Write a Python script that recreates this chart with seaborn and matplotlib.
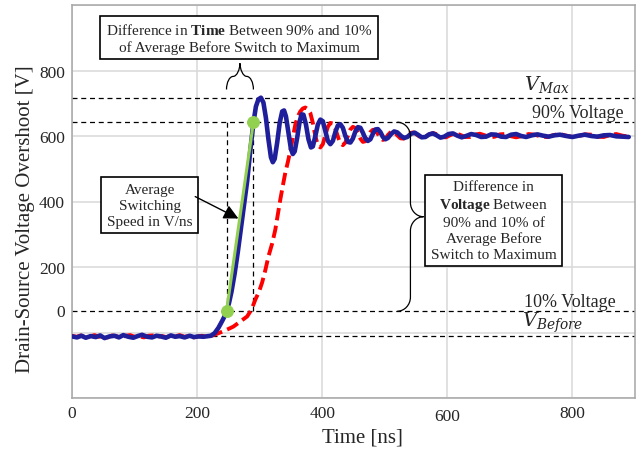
import matplotlib
matplotlib.use("Agg")
import matplotlib.pyplot as plt
import numpy as np
import pandas as pd
import seaborn as sns
from matplotlib.path import Path
from matplotlib.patches import PathPatch
from matplotlib.transforms import ScaledTranslation

# ---------------- data ----------------
blue_t = [0, 8, 15, 22, 30, 38, 45, 52, 60, 68, 75, 82, 90, 98, 105, 112, 120, 128, 135, 142,
          150, 158, 165, 172, 180, 188, 195, 202, 210, 218,
          222, 228, 234, 240, 244, 247, 251, 255, 260, 265, 270, 275, 280, 285, 290, 294, 298,
          302, 306, 310, 314, 318, 321, 324, 328, 332, 336, 339, 342, 346, 350, 353, 356, 360,
          364, 367, 370, 374, 378, 382, 385, 389, 393, 397, 401, 405, 409, 413, 417, 421, 425,
          429, 433, 437, 441, 445, 449, 453, 457, 461, 465, 469, 473, 477, 481, 485, 489, 493,
          497, 501, 505, 510, 515, 520, 526, 531, 536, 542, 548, 553, 559, 565, 571, 577, 583,
          589, 595, 602, 609, 616, 623, 630, 638, 646, 654, 662, 670, 678, 686, 694, 702, 710,
          718, 726, 735, 744, 753, 762, 771, 780, 790, 800, 810, 820, 830, 840, 850, 860, 870,
          880, 890]
blue_v = [-12, -15, -10, -16, -11, -14, -9, -17, -12, -10, -15, -8, -13, -16, -11, -7, -13, -15, -10, -12,
          -16, -9, -13, -11, -15, -10, -14, -12, -13, -11,
          -10, -2, 14, 35, 50, 65, 90, 125, 180, 245, 318, 390, 462, 555, 640, 690, 712,
          717, 702, 655, 590, 535, 520, 530, 580, 640, 675, 678, 660, 610, 560, 545, 553, 595,
          645, 666, 665, 635, 590, 565, 568, 600, 635, 650, 645, 615, 585, 575, 585, 612, 632,
          636, 625, 600, 582, 580, 592, 614, 627, 625, 610, 592, 585, 590, 607, 620, 621, 612,
          597, 590, 594, 606, 614, 611, 600, 594, 597, 607, 610, 604, 596, 597, 605, 608, 602,
          595, 598, 606, 608, 601, 596, 600, 606, 603, 597, 598, 605, 604, 598, 597, 604, 606,
          600, 597, 602, 605, 601, 598, 602, 604, 600, 597, 601, 604, 600, 598, 602, 603, 599,
          598, 597]

red_t = [0, 7, 14, 21, 28, 36, 43, 50, 57, 64, 72, 79, 86, 93, 100, 108, 115, 122, 129, 136,
         144, 151, 158, 165, 172, 180, 187, 194, 201, 208, 216,
         226, 237, 248, 258, 268, 280, 287, 293, 299, 304, 309, 314, 320, 325, 329, 333, 337,
         341, 345, 349, 353, 357, 361, 365, 369, 373, 377, 381, 385, 389, 393, 397, 401, 405,
         409, 413, 417, 421, 425, 429, 433, 437, 441, 445, 449, 453, 457, 461, 465, 469, 473,
         477, 481, 485, 489, 493, 497, 501, 505, 510, 515, 520, 525, 530, 535, 540, 546, 552,
         558, 564, 570, 577, 584, 591, 598, 605, 612, 620, 628, 636, 644, 652, 660, 668, 676,
         684, 692, 700, 710, 720, 730, 740, 750, 760, 770, 780, 790, 800, 810, 820, 830, 840,
         850, 860, 870, 880, 890]
red_v = [-10, -13, -9, -14, -12, -8, -13, -11, -15, -9, -12, -14, -10, -8, -13, -12, -15, -10, -9, -13,
         -11, -14, -10, -12, -8, -13, -11, -15, -12, -10, -14,
         -8, 0, 9, 18, 32, 49, 70, 100, 125, 153, 190, 232, 272, 314, 360, 406, 448,
         488, 520, 555, 595, 635, 660, 675, 684, 687, 682, 670, 640, 600, 572, 565, 575, 603,
         628, 640, 638, 622, 598, 578, 572, 580, 600, 620, 628, 624, 610, 592, 582, 584, 596,
         612, 619, 617, 606, 593, 588, 592, 603, 613, 612, 602, 593, 592, 600, 609, 611, 603,
         595, 596, 604, 609, 605, 597, 596, 603, 608, 604, 597, 597, 604, 607, 602, 596, 598,
         605, 606, 600, 596, 600, 606, 604, 598, 597, 603, 606, 601, 597, 600, 605, 604, 598,
         597, 603, 606, 601, 598]

switch_t = [247, 290]          # 10% and 90% crossing times
switch_v = [65, 642]           # 10% and 90% voltages
level_v = [717, 642, 65, -12]  # V_Max, 90 %, 10 %, V_Before
x_ticks = [0, 200, 400, 600, 800]
y_ticks = [-200, 0, 200, 400, 600, 800, 1000]
y_tick_labels = ["", "0", "200", "400", "600", "800", ""]

# ---------------- style ----------------
sns.set_theme(style="whitegrid")
plt.rcParams["font.family"] = ["Liberation Serif", "DejaVu Sans"]
plt.rcParams["mathtext.fontset"] = "custom"
plt.rcParams["mathtext.rm"] = "Liberation Serif"
plt.rcParams["mathtext.it"] = "DejaVu Serif:italic"
plt.rcParams["mathtext.bf"] = "Liberation Serif:bold"

fig = plt.figure(figsize=(6.43, 4.60), dpi=100)
ax = fig.add_axes([72 / 643, 61 / 460, 563 / 643, 393 / 460])

blue = pd.DataFrame({"t": blue_t, "v": blue_v})
red = pd.DataFrame({"t": red_t, "v": red_v})
sw = pd.DataFrame({"t": switch_t, "v": switch_v})

sns.lineplot(data=red, x="t", y="v", ax=ax, color="#ff0000", lw=2.8, zorder=3)
ax.lines[-1].set_dashes([3.2, 1.4])
ax.lines[-1].set_dash_capstyle("butt")
sns.lineplot(data=blue, x="t", y="v", ax=ax, color="#1f1f9c", lw=3.3, zorder=4)
sns.lineplot(data=sw, x="t", y="v", ax=ax, color="#92d050", lw=2.2, marker="o",
             markersize=8.5, markeredgecolor="#92d050", zorder=5)

# reference dashed lines
dash = dict(color="black", lw=0.9, linestyle=(0, (4, 3)), zorder=2)
for lv in level_v:
    ax.axhline(lv, **dash)
for st in switch_t:
    ax.plot([st, st], [switch_v[0], switch_v[1]], **dash)

ax.set_xlim(0, 900)
ax.set_ylim(-200, 1000)
ax.set_xticks(x_ticks)
ax.set_yticks(y_ticks)
ax.set_yticklabels(y_tick_labels)
ax.tick_params(axis="both", labelsize=12.5, pad=5, length=0)
ax.grid(True, color="#d9d9d9", lw=1.1)
for s in ax.spines.values():
    s.set_color("#a6a6a6")
    s.set_linewidth(1.1)

# misplaced "0" label (sits at the 10 % line in the reference)
for lab in ax.get_yticklabels():
    if lab.get_text() == "0":
        lab.set_transform(lab.get_transform() + ScaledTranslation(0, 0.22, fig.dpi_scale_trans))
for lab in ax.get_xticklabels():
    if lab.get_text() == "600":
        lab.set_transform(lab.get_transform() + ScaledTranslation(0, -0.03, fig.dpi_scale_trans))

ax.set_xlabel("Time [ns]", fontsize=15)
ax.set_ylabel("Drain-Source Voltage Overshoot [V]", fontsize=15)
ax.xaxis.set_label_coords(0.515, -0.075)
ax.yaxis.set_label_coords(-0.066, 0.458)

# level labels
ax.text(722, 728, r"$V_{Max}$", fontsize=14, ha="left", va="bottom", zorder=6)
ax.text(882, 647, "90% Voltage", fontsize=13, ha="right", va="bottom", zorder=6)
ax.text(869, 70, "10% Voltage", fontsize=13, ha="right", va="bottom", zorder=6)
ax.text(720, -4, r"$V_{Before}$", fontsize=14, ha="left", va="bottom", zorder=6)

# annotation boxes
box = dict(boxstyle="square,pad=0.35", fc="white", ec="black", lw=1.2)
ax.text(267, 900, "Difference in $\\mathbf{Time}$ Between 90% and 10%\nof Average Before Switch to Maximum",
        fontsize=11, ha="center", va="center", multialignment="center", linespacing=1.3,
        bbox=box, zorder=7)
ax.text(674, 342, "Difference in\n$\\mathbf{Voltage}$ Between\n90% and 10% of\nAverage Before\nSwitch to Maximum",
        fontsize=11, ha="center", va="center", multialignment="center", linespacing=1.25,
        bbox=box, zorder=7)
ax.text(124, 389, "Average\nSwitching\nSpeed in V/ns",
        fontsize=11, ha="center", va="center", multialignment="center", linespacing=1.3,
        bbox=box, zorder=7)
ax.annotate("", xy=(266, 348), xytext=(197, 415),
            arrowprops=dict(arrowstyle="-|>", color="black", lw=1.0, mutation_scale=22,
                            shrinkA=0, shrinkB=0), zorder=7)


# braces
def hbrace(x0, x1, yb, ys, yt):
    xm = (x0 + x1) / 2
    a = (x1 - x0) / 4
    k = 0.55
    verts = [(x0, yb),
             (x0, yb + k * (ys - yb)), (x0 + a * (1 - k), ys), (x0 + a, ys),
             (xm - a, ys),
             (xm - a * (1 - k), ys), (xm, ys + k * (yt - ys)), (xm, yt),
             (xm, ys + k * (yt - ys)), (xm + a * (1 - k), ys), (xm + a, ys),
             (x1 - a, ys),
             (x1 - a * (1 - k), ys), (x1, yb + k * (ys - yb)), (x1, yb)]
    codes = [Path.MOVETO] + [Path.CURVE4] * 3 + [Path.LINETO] + [Path.CURVE4] * 6 + \
            [Path.LINETO] + [Path.CURVE4] * 3
    return Path(verts, codes)


def vbrace(y0, y1, xb, xs, xt, a):
    ym = (y0 + y1) / 2
    k = 0.55
    verts = [(xb, y0),
             (xb + k * (xs - xb), y0), (xs, y0 - a * (1 - k)), (xs, y0 - a),
             (xs, ym + a),
             (xs, ym + a * (1 - k)), (xs + (1 - k) * (xt - xs), ym), (xt, ym),
             (xs + (1 - k) * (xt - xs), ym), (xs, ym - a * (1 - k)), (xs, ym - a),
             (xs, y1 + a),
             (xs, y1 + a * (1 - k)), (xb + k * (xs - xb), y1), (xb, y1)]
    codes = [Path.MOVETO] + [Path.CURVE4] * 3 + [Path.LINETO] + [Path.CURVE4] * 6 + \
            [Path.LINETO] + [Path.CURVE4] * 3
    return Path(verts, codes)


ax.add_patch(PathPatch(hbrace(switch_t[0], switch_t[1], 742, 782, 822),
                       fc="none", ec="black", lw=0.9, zorder=6))
ax.add_patch(PathPatch(vbrace(level_v[1], level_v[2], 520, 541, 562, 43),
                       fc="none", ec="black", lw=0.9, zorder=6))

fig.savefig("out.png", dpi=100)
